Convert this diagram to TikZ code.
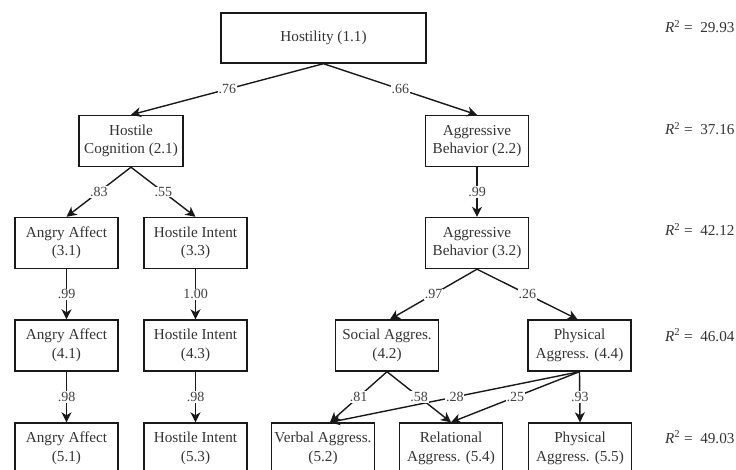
\documentclass[tikz,border=0pt]{standalone}
\usepackage{fontspec}
\setmainfont{Liberation Serif}
\usetikzlibrary{arrows.meta}
\begin{document}
\begin{tikzpicture}[x=1pt,y=-1pt,
 box/.style={draw=black!90, line width=1.4pt, rectangle, minimum width=103pt, minimum height=51pt, align=center, inner sep=2pt, font=\fontsize{15.2}{18.5}\selectfont, text=black!80},
 arr/.style={line width=1.4pt, draw=black!90, -{Stealth[length=10pt,width=10pt,inset=3pt]}},
 lab/.style={fill=white, inner sep=0.8pt, font=\fontsize{14}{16}\selectfont, text=black!75},
 rsq/.style={anchor=base west, font=\fontsize{15.2}{18}\selectfont, text=black!80, inner sep=0pt}]
\useasboundingbox (0,0) rectangle (736,470);
% row 1
\node[box, minimum width=205pt, minimum height=50pt] (h11) at (323.5,38) {Hostility (1.1)};
% row 2
\node[box, minimum width=104pt] (hc21) at (131,141) {Hostile\\Cognition (2.1)};
\node[box] (ab22) at (477,141) {Aggressive\\Behavior (2.2)};
% row 3
\node[box] (aa31) at (66.5,243) {Angry Affect\\(3.1)};
\node[box] (hi33) at (195.5,243) {Hostile Intent\\(3.3)};
\node[box] (ab32) at (477,243) {Aggressive\\Behavior (3.2)};
% row 4
\node[box] (aa41) at (66.5,345.5) {Angry Affect\\(4.1)};
\node[box] (hi43) at (195.5,345.5) {Hostile Intent\\(4.3)};
\node[box] (sa42) at (387,345.5) {Social Aggres.\\(4.2)};
\node[box] (pa44) at (579.5,345.5) {Physical\\Aggress. (4.4)};
% row 5
\node[box] (aa51) at (66.5,448.5) {Angry Affect\\(5.1)};
\node[box] (hi53) at (195.5,448.5) {Hostile Intent\\(5.3)};
\node[box] (va52) at (323,448.5) {Verbal Aggress.\\(5.2)};
\node[box] (ra54) at (451,448.5) {Relational\\Aggress. (5.4)};
\node[box] (pa55) at (580,448.5) {Physical\\Aggress. (5.5)};
% R squared
\node[rsq] (r1) at (665,33) {\textit{R}\textsuperscript{2} =\ \ 29.93};
\node[rsq] (r2) at (665,135) {\textit{R}\textsuperscript{2} =\ \ 37.16};
\node[rsq] (r3) at (665,236) {\textit{R}\textsuperscript{2} =\ \ 42.12};
\node[rsq] (r4) at (665,341) {\textit{R}\textsuperscript{2} =\ \ 46.04};
\node[rsq] (r5) at (665,443) {\textit{R}\textsuperscript{2} =\ \ 49.03};
% edges
\coordinate (va52in) at ([xshift=7pt]va52.north);
\draw[arr] (h11.south) -- (hc21.north);
\draw[arr] (h11.south) -- (ab22.north);
\draw[arr] (hc21.south) -- (aa31.north);
\draw[arr] (hc21.south) -- (hi33.north);
\draw[arr] (ab22.south) -- (ab32.north);
\draw[arr] (aa31.south) -- (aa41.north);
\draw[arr] (hi33.south) -- (hi43.north);
\draw[arr] (ab32.south) -- ([xshift=3pt]sa42.north);
\draw[arr] (ab32.south) -- ([xshift=-2pt]pa44.north);
\draw[arr] (aa41.south) -- (aa51.north);
\draw[arr] (hi43.south) -- (hi53.north);
\draw[arr] (sa42.south) -- (va52in);
\draw[arr] (sa42.south) -- (ra54.north);
\draw[arr] (pa44.south) -- (va52in);
\draw[arr] (pa44.south) -- (ra54.north);
\draw[arr] (pa44.south) -- (pa55.north);
% labels
\path (h11.south) -- (hc21.north) node[lab, midway] {.76};
\path (h11.south) -- (ab22.north) node[lab, midway] {.66};
\path (hc21.south) -- (aa31.north) node[lab, midway] {.83};
\path (hc21.south) -- (hi33.north) node[lab, midway] {.55};
\path (ab22.south) -- (ab32.north) node[lab, midway] {.99};
\path (aa31.south) -- (aa41.north) node[lab, midway] {.99};
\path (hi33.south) -- (hi43.north) node[lab, midway] {1.00};
\path (ab32.south) -- ([xshift=3pt]sa42.north) node[lab, midway] {.97};
\path (ab32.south) -- ([xshift=-2pt]pa44.north) node[lab, midway] {.26};
\path (aa41.south) -- (aa51.north) node[lab, midway] {.98};
\path (hi43.south) -- (hi53.north) node[lab, midway] {.98};
\path (sa42.south) -- (va52in) node[lab, midway] {.81};
\path (sa42.south) -- (ra54.north) node[lab, midway] {.58};
\path (pa44.south) -- (va52in) node[lab, midway] {.28};
\path (pa44.south) -- (ra54.north) node[lab, midway] {.25};
\path (pa44.south) -- (pa55.north) node[lab, midway] {.93};
\end{tikzpicture}
\end{document}
